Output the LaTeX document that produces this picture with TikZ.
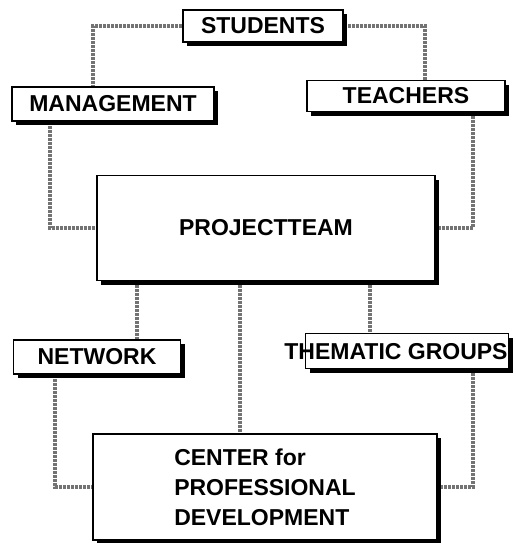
\documentclass[tikz,border=0pt]{standalone}
\usepackage{fontspec}
\usepackage{tikz}
\newfontfamily\boxfont{Liberation Sans}
\usetikzlibrary{positioning,calc,shadows,backgrounds}

\begin{document}
\begin{tikzpicture}[x=1pt,y=-1pt,
    orgbox/.style={draw=black, line width=1.6pt, fill=white, inner sep=0pt,
        font=\boxfont\bfseries\fontsize{23}{30}\selectfont,
        drop shadow={shadow xshift=4pt, shadow yshift=-4pt, fill=black, opacity=1}},
    boxtext/.style={font=\boxfont\bfseries\fontsize{23}{30}\selectfont, inner sep=0pt},
    link/.style={draw=black!55, line width=4pt, dash pattern=on 3pt off 1pt}]
    \useasboundingbox (0,0) rectangle (515,543);

    % Top row
    \node[orgbox, minimum width=160pt, minimum height=32pt] (students) at (263,26) {STUDENTS};
    \node[orgbox, minimum width=202pt, minimum height=34pt] (management) at (113,104) {MANAGEMENT};
    \node[orgbox, minimum width=198pt, minimum height=31pt] (teachers) at (406,96) {TEACHERS};

    % Middle
    \node[orgbox, minimum width=338pt, minimum height=105pt] (projectteam) at (266,228) {PROJECTTEAM};

    % Lower row
    \node[orgbox, minimum width=167pt, minimum height=34pt] (network) at (97,357) {NETWORK};
    \node[orgbox, minimum width=203pt, minimum height=35pt] (thematic) at (407,351) {};
    \node[boxtext] (thematiclabel) at (396,352) {THEMATIC GROUPS};

    % Bottom
    \node[orgbox, minimum width=344pt, minimum height=106pt, align=left] (center) at (265,487)
        {CENTER for\\PROFESSIONAL\\DEVELOPMENT};

    % Connectors
    \begin{scope}[on background layer]
        \draw[link] (students.west) -| ([xshift=-20pt]management.north);
        \draw[link] (students.east) -| ([xshift=19pt]teachers.north);
        \draw[link] ([xshift=-63pt]management.south) |- (projectteam.west);
        \draw[link] ([xshift=67pt]teachers.south) |- (projectteam.east);
        \draw[link] ([xshift=-129pt]projectteam.south) -- ([xshift=-129pt]projectteam.south |- network.north);
        \draw[link] ([xshift=-26pt]projectteam.south) -- ([xshift=-26pt]projectteam.south |- center.north);
        \draw[link] ([xshift=104pt]projectteam.south) -- ([xshift=104pt]projectteam.south |- thematic.north);
        \draw[link] ([xshift=-42pt]network.south) |- (center.west);
        \draw[link] ([xshift=66pt]thematic.south) |- (center.east);
    \end{scope}
\end{tikzpicture}
\end{document}
